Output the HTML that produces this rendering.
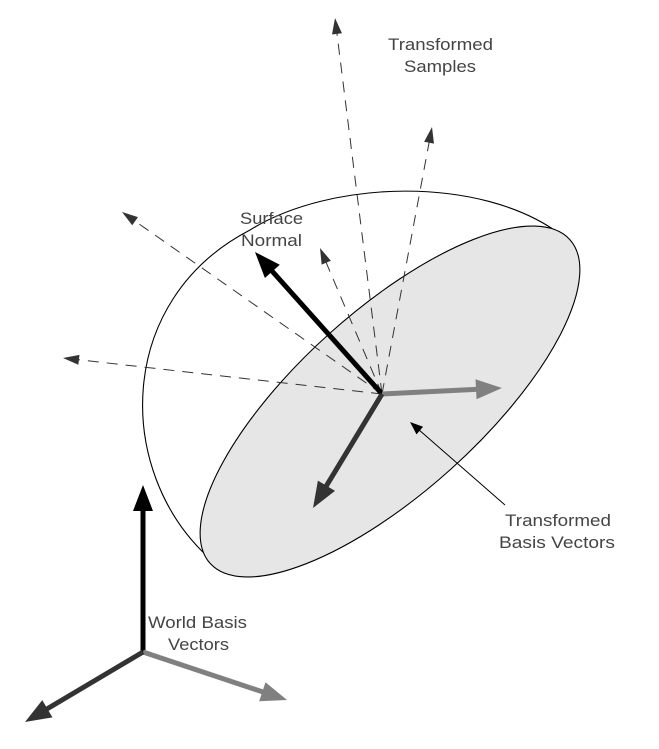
<!DOCTYPE html>
<html><head><meta charset="utf-8"><style>
html,body{margin:0;padding:0;background:#fff;}
svg{display:block;}
text{font-family:"Liberation Sans",sans-serif;font-size:17px;fill:#444;}
</style></head><body>
<svg id="fig" width="659" height="749" viewBox="0 0 659 749">
<path d="M207,556 C115,470 115,300 250,230 C330,180 480,175 560,234" fill="none" stroke="#000" stroke-width="1.1"/>
<ellipse cx="390" cy="401.5" rx="242" ry="91" transform="rotate(-42 390 401.5)" fill="#e6e6e6" stroke="#000" stroke-width="1.1"/>
<g id="rays"></g>
<g id="vecs"></g>
<text x="388" y="50" textLength="105" lengthAdjust="spacingAndGlyphs">Transformed</text>
<text x="404" y="72" textLength="72" lengthAdjust="spacingAndGlyphs">Samples</text>
<text x="240" y="224" textLength="63" lengthAdjust="spacingAndGlyphs">Surface</text>
<text x="241" y="246" textLength="61" lengthAdjust="spacingAndGlyphs">Normal</text>
<text x="505" y="526" textLength="106" lengthAdjust="spacingAndGlyphs">Transformed</text>
<text x="499" y="548" textLength="116" lengthAdjust="spacingAndGlyphs">Basis Vectors</text>
<text x="148" y="628" textLength="99" lengthAdjust="spacingAndGlyphs">World Basis</text>
<text x="168" y="650" textLength="61" lengthAdjust="spacingAndGlyphs">Vectors</text>
</svg>
<script>
const rayOrigin=[382,394];
const rayTipsX=[335,432,122,320,63];
const rayTipsY=[18,127,212,248,358];
const vecNames=["surface-normal","tangent-x","tangent-y","leader","world-up","world-x","world-z"];
const vecFrom=[[382,394],[382,394],[382,394],[505,505],[143,652],[143,652],[143,652]];
const vecTo=[[255,252],[502,388],[313,508],[410,422],[143,485],[287,700],[25,722]];
const vecColor=["#000","#808080","#333","#000","#000","#808080","#333"];
const vecWidth=[5,5,5,1,5,5,5];
const NS="http://www.w3.org/2000/svg";
function arrow(g,x1,y1,x2,y2,col,w,len,half,dash,name){
  const dx=x2-x1,dy=y2-y1,L=Math.hypot(dx,dy),ux=dx/L,uy=dy/L;
  const bx=x2-ux*len,by=y2-uy*len;
  const ln=document.createElementNS(NS,"line");
  ln.setAttribute("x1",x1);ln.setAttribute("y1",y1);ln.setAttribute("x2",bx+ux*2);ln.setAttribute("y2",by+uy*2);
  ln.setAttribute("stroke",col);ln.setAttribute("stroke-width",w);
  if(dash)ln.setAttribute("stroke-dasharray",dash);
  
  
  g.appendChild(ln);
  const p=document.createElementNS(NS,"polygon");
  p.setAttribute("points",x2+","+y2+" "+(bx-uy*half)+","+(by+ux*half)+" "+(bx+uy*half)+","+(by-ux*half));
  p.setAttribute("fill",col);
  
  
  g.appendChild(p);
}
const rg=document.getElementById("rays");
for(let i=0;i<rayTipsX.length;i++){
  arrow(rg,rayOrigin[0],rayOrigin[1],rayTipsX[i],rayTipsY[i],"#333",1,16,5,"11,8","sample-ray-"+i);
}
const vg=document.getElementById("vecs");
for(let i=0;i<vecNames.length;i++){
  const f=vecFrom[i],t=vecTo[i];
  const thin=vecWidth[i]<2;
  arrow(vg,f[0],f[1],t[0],t[1],vecColor[i],vecWidth[i],thin?13:26,thin?5:10,null,vecNames[i]);
}
</script>
</body></html>
